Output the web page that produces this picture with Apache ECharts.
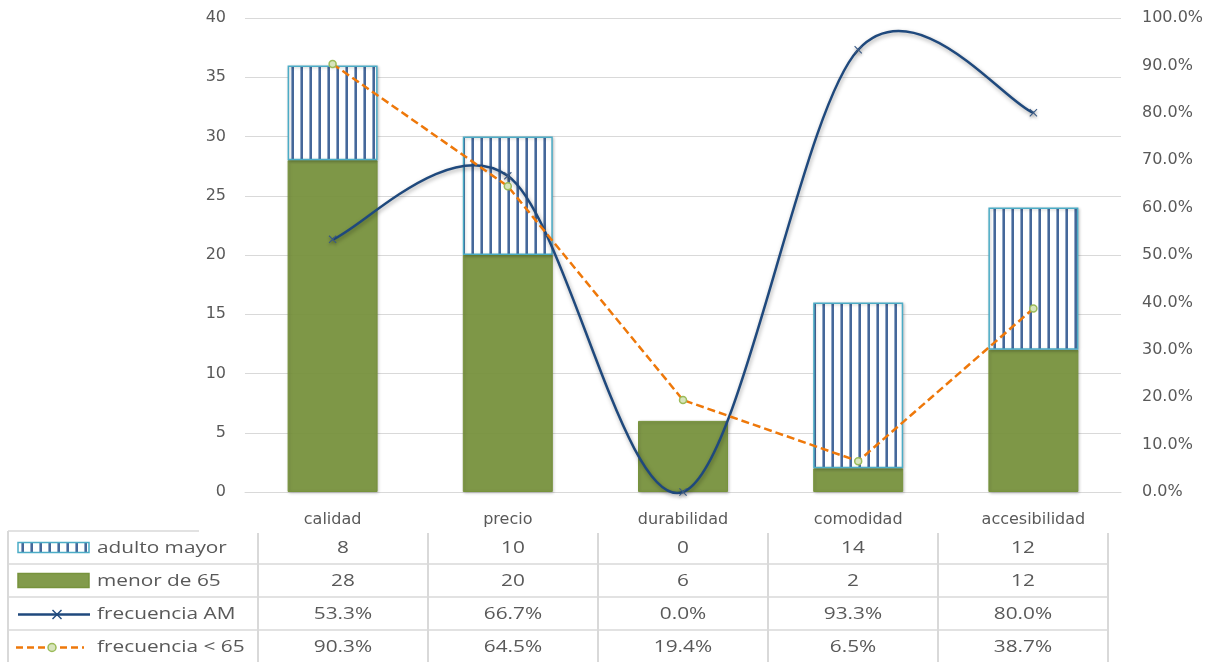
<!DOCTYPE html>
<html>
<head>
<meta charset="utf-8">
<script src="https://cdn.jsdelivr.net/npm/echarts@6/dist/echarts.min.js"></script>
<style>
  html, body { margin: 0; padding: 0; background: #ffffff; }
  #chart { width: 1213px; height: 662px; }
</style>
</head>
<body>
<div id="chart"></div>
<script>
// Categories and series values
const categories = ['calidad', 'precio', 'durabilidad', 'comodidad', 'accesibilidad'];
const adultoMayor = [8, 10, 0, 14, 12];
const menor65 = [28, 20, 6, 2, 12];
const frecAM = [53.3, 66.7, 0.0, 93.3, 80.0];       // percent
const frecMenor = [90.3, 64.5, 19.4, 6.5, 38.7];    // percent
const seriesNames = ['adulto mayor', 'menor de 65', 'frecuencia AM', 'frecuencia < 65'];

// Styles
const TEXT = '#595959';
const GRID = '#D9D9D9';
const GREEN = 'rgba(119,147,60,0.92)';
const GREEN_EDGE = '#77933C';
const HATCH_EDGE = '#4BACC6';
const NAVY = '#1F497D';
const ORANGE = '#EE780A';
const FONT = '"Open Sans", sans-serif';
const AXIS_FONT = '"DejaVu Sans", sans-serif';

// Vertical stripe fill for the hatched bars
function stripeCanvas() {
  const c = document.createElement('canvas');
  c.width = 9; c.height = 8;
  const g = c.getContext('2d');
  g.fillStyle = '#ffffff';
  g.fillRect(0, 0, 9, 8);
  g.fillStyle = '#8FA6C6';
  g.fillRect(3, 0, 1, 8);
  g.fillStyle = '#46689A';
  g.fillRect(4, 0, 2, 8);
  return c;
}
const stripe = stripeCanvas();
const hatchFill = { image: stripe, repeat: 'repeat' };

const lineShadow = { shadowColor: 'rgba(0,0,0,0.35)', shadowBlur: 4, shadowOffsetX: 1, shadowOffsetY: 2 };
const barShadow = { shadowColor: 'rgba(0,0,0,0.22)', shadowBlur: 3, shadowOffsetX: 1, shadowOffsetY: 1 };

const pct = v => v.toFixed(1) + '%';

// X-shaped polygon centred on (cx, cy)
function crossPoints(cx, cy, s) {
  const base = [[0,1],[1,0],[5,4],[9,0],[10,1],[6,5],[10,9],[9,10],[5,6],[1,10],[0,9],[4,5]];
  return base.map(p => [cx + (p[0] - 5) * s / 10, cy + (p[1] - 5) * s / 10]);
}

// Smoothed line: Catmull-Rom style cubic segments between neighbouring points
function renderSmoothLine(params, api) {
  const i = params.dataIndex;
  const n = frecAM.length;
  const pt = k => api.coord([k, frecAM[k]]);
  const children = [];
  if (i < n - 1) {
    const p0 = pt(i), p1 = pt(i + 1);
    const pm = pt(Math.max(i - 1, 0)), p2 = pt(Math.min(i + 2, n - 1));
    children.push({
      type: 'bezierCurve',
      shape: {
        x1: p0[0], y1: p0[1], x2: p1[0], y2: p1[1],
        cpx1: p0[0] + (p1[0] - pm[0]) / 6, cpy1: p0[1] + (p1[1] - pm[1]) / 6,
        cpx2: p1[0] - (p2[0] - p0[0]) / 6, cpy2: p1[1] - (p2[1] - p0[1]) / 6
      },
      style: Object.assign({ stroke: NAVY, lineWidth: 2.5, fill: null }, lineShadow)
    });
  }
  const c = api.coord([api.value(0), api.value(1)]);
  children.push({
    type: 'polygon',
    shape: { points: crossPoints(c[0], c[1], 8) },
    style: { fill: '#3A5A85', shadowColor: 'rgba(0,0,0,0.3)', shadowBlur: 3, shadowOffsetY: 2 }
  });
  return { type: 'group', children: children };
}

// Data table underneath the plot
function buildTable() {
  const els = [];
  const left = 8, firstRight = 258, colW = 170, top = 531, rowH = 33;
  const nCols = categories.length;
  const right = firstRight + colW * nCols;
  const bottom = top + rowH * 4;
  const lineStyle = { stroke: GRID, lineWidth: 2 };

  // grid lines
  els.push({ type: 'line', shape: { x1: left, y1: top, x2: 199, y2: top }, style: { stroke: GRID, lineWidth: 1.5 } });
  for (let r = 1; r <= 4; r++) {
    els.push({ type: 'line', shape: { x1: left, y1: top + rowH * r, x2: right, y2: top + rowH * r }, style: { stroke: GRID, lineWidth: 1.5 } });
  }
  els.push({ type: 'line', shape: { x1: left, y1: top, x2: left, y2: bottom }, style: lineStyle });
  for (let c = 0; c <= nCols; c++) {
    const x = firstRight + colW * c;
    els.push({ type: 'line', shape: { x1: x, y1: top + 2, x2: x, y2: bottom }, style: lineStyle });
  }

  const rows = [
    adultoMayor.map(String),
    menor65.map(String),
    frecAM.map(pct),
    frecMenor.map(pct)
  ];
  const txt = (x, y, text, align) => ({
    type: 'text', x: x, y: y, scaleX: 1.3,
    style: { text: text, fill: TEXT, font: '16px ' + FONT, align: align, verticalAlign: 'middle' }
  });
  for (let r = 0; r < 4; r++) {
    const cy = top + rowH * r + rowH / 2 + 1;
    els.push(txt(97, cy, seriesNames[r], 'left'));
    for (let c = 0; c < nCols; c++) {
      els.push(txt(firstRight + colW * c + colW / 2, cy, rows[r][c], 'center'));
    }
  }

  // legend keys
  const ky = r => top + rowH * r + rowH / 2;
  els.push({ type: 'rect', shape: { x: 18, y: ky(0) - 5, width: 71, height: 10 }, style: { fill: hatchFill, stroke: HATCH_EDGE, lineWidth: 1.5 } });
  els.push({ type: 'rect', shape: { x: 18, y: ky(1) - 7, width: 71, height: 14 }, style: { fill: GREEN, stroke: GREEN_EDGE, lineWidth: 1.5 } });
  els.push({ type: 'line', shape: { x1: 18, y1: ky(2) + 1, x2: 90, y2: ky(2) + 1 }, style: { stroke: NAVY, lineWidth: 2.5 } });
  els.push({ type: 'polygon', shape: { points: crossPoints(57, ky(2) + 1, 10) }, style: { fill: NAVY } });
  els.push({ type: 'line', shape: { x1: 16, y1: ky(3) + 1, x2: 84, y2: ky(3) + 1 }, style: { stroke: ORANGE, lineWidth: 2.5, lineDash: [7, 4] } });
  els.push({ type: 'circle', shape: { cx: 52, cy: ky(3) + 1, r: 4 }, style: { fill: '#D7E4BD', stroke: '#9BBB59', lineWidth: 1.5 } });
  return els;
}

const chart = echarts.init(document.getElementById('chart'), null, { renderer: 'canvas' });

chart.setOption({
  animation: false,
  backgroundColor: '#ffffff',
  grid: { left: 245, right: 92, top: 18, bottom: 170 },
  xAxis: {
    type: 'category',
    data: categories,
    axisTick: { show: false },
    axisLine: { lineStyle: { color: GRID, width: 1 } },
    axisLabel: { color: TEXT, fontSize: 16, fontFamily: AXIS_FONT, margin: 20 }
  },
  yAxis: [
    {
      type: 'value', min: 0, max: 40, interval: 5,
      axisLine: { show: false }, axisTick: { show: false },
      axisLabel: { color: TEXT, fontSize: 16, fontFamily: AXIS_FONT, margin: 19 },
      splitLine: { lineStyle: { color: GRID, width: 1 } }
    },
    {
      type: 'value', min: 0, max: 100, interval: 10, position: 'right',
      axisLine: { show: false }, axisTick: { show: false },
      axisLabel: { color: TEXT, fontSize: 16, fontFamily: AXIS_FONT, margin: 21, formatter: v => pct(v) },
      splitLine: { show: false }
    }
  ],
  series: [
    {
      name: 'menor de 65', type: 'bar', stack: 'total', barWidth: 90,
      data: menor65,
      itemStyle: Object.assign({ color: GREEN, borderColor: GREEN_EDGE, borderWidth: 1 }, barShadow)
    },
    {
      name: 'adulto mayor', type: 'bar', stack: 'total', barWidth: 90,
      data: adultoMayor.map(v => ({ value: v, itemStyle: v === 0 ? { borderWidth: 0, shadowBlur: 0 } : undefined })),
      itemStyle: Object.assign({ color: hatchFill, borderColor: HATCH_EDGE, borderWidth: 1.5 }, barShadow)
    },
    {
      name: 'frecuencia AM', type: 'custom', yAxisIndex: 1,
      data: frecAM.map((v, i) => [i, v]),
      encode: { x: 0, y: 1 },
      renderItem: renderSmoothLine,
      clip: false,
      z: 3
    },
    {
      name: 'frecuencia < 65', type: 'line', yAxisIndex: 1,
      data: frecMenor,
      symbol: 'circle', symbolSize: 7,
      itemStyle: { color: '#D7E4BD', borderColor: '#9BBB59', borderWidth: 1.5 },
      lineStyle: { color: ORANGE, width: 2.5, type: [8, 4] },
      z: 4
    }
  ],
  graphic: buildTable()
});
</script>
</body>
</html>
